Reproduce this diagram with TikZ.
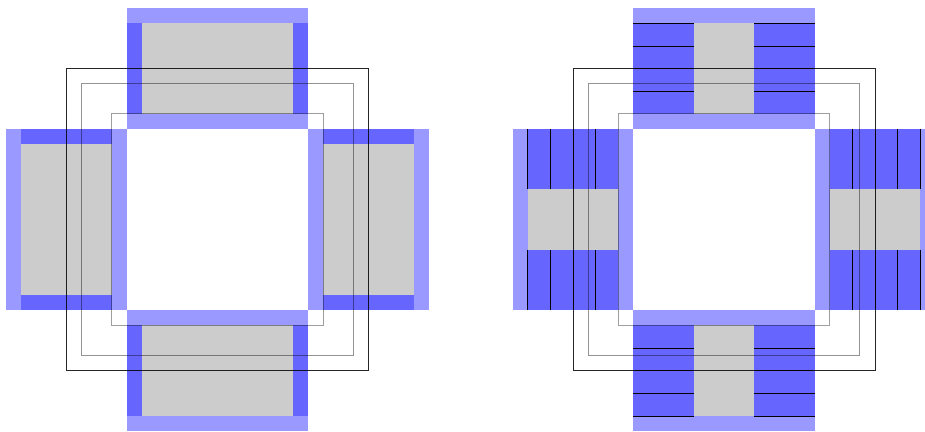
\documentclass[tikz,border=0pt]{standalone}
\definecolor{lb}{HTML}{9999FF}
\definecolor{db}{HTML}{6666FF}
\definecolor{gf}{HTML}{CCCCCC}
\tikzset{
  lightstrip/.style={fill=lb},
  darkpart/.style={fill=db},
  grayfill/.style={fill=gf},
  outerframe/.style={draw=black, draw opacity=0.85, line width=0.75pt},
  midframe/.style={draw=black, draw opacity=0.42, line width=0.9pt},
  innerframe/.style={draw=black, draw opacity=0.38, line width=0.9pt},
  rung/.style={draw=black, line width=0.6pt},
}
\begin{document}
\begin{tikzpicture}[x=1pt,y=-1pt]
\useasboundingbox (0,0) rectangle (925,431);
% ---------- left figure ----------
\begin{scope}[shift={(217.5pt,-219.5pt)}, x=15.1pt, y=-15.1pt]
  \fill[white] (-6,-6) rectangle (6,6);
  \foreach \r in {0,90,180,270}{
    \begin{scope}[rotate=\r]
      \fill[lightstrip] (-6,-14) rectangle (6,-13);
      \fill[darkpart] (-6,-13) rectangle (6,-7);
      \fill[grayfill] (-5,-13) rectangle (5,-7);
      \fill[lightstrip] (-6,-7) rectangle (6,-6);
    \end{scope}
  }
  \draw[outerframe] (-10,-10) rectangle (10,10);
  \draw[midframe] (-9,-9) rectangle (9,9);
  \draw[innerframe] (-7,-7) rectangle (7,7);
\end{scope}
% ---------- right figure ----------
\begin{scope}[shift={(724pt,-219.5pt)}, x=15.1pt, y=-15.1pt]
  \fill[white] (-6,-6) rectangle (6,6);
  \foreach \r in {0,90,180,270}{
    \begin{scope}[rotate=\r]
      \fill[lightstrip] (-6,-14) rectangle (6,-13);
      \fill[darkpart] (-6,-13) rectangle (6,-7);
      \fill[grayfill] (-2,-13) rectangle (2,-7);
      \fill[lightstrip] (-6,-7) rectangle (6,-6);
      \foreach \yy in {-13,-11.5,-10,-8.5}{
        \draw[rung] (-6,\yy) -- (-2,\yy);
        \draw[rung] (2,\yy) -- (6,\yy);
      }
    \end{scope}
  }
  \draw[outerframe] (-10,-10) rectangle (10,10);
  \draw[midframe] (-9,-9) rectangle (9,9);
  \draw[innerframe] (-7,-7) rectangle (7,7);
\end{scope}
\end{tikzpicture}
\end{document}
